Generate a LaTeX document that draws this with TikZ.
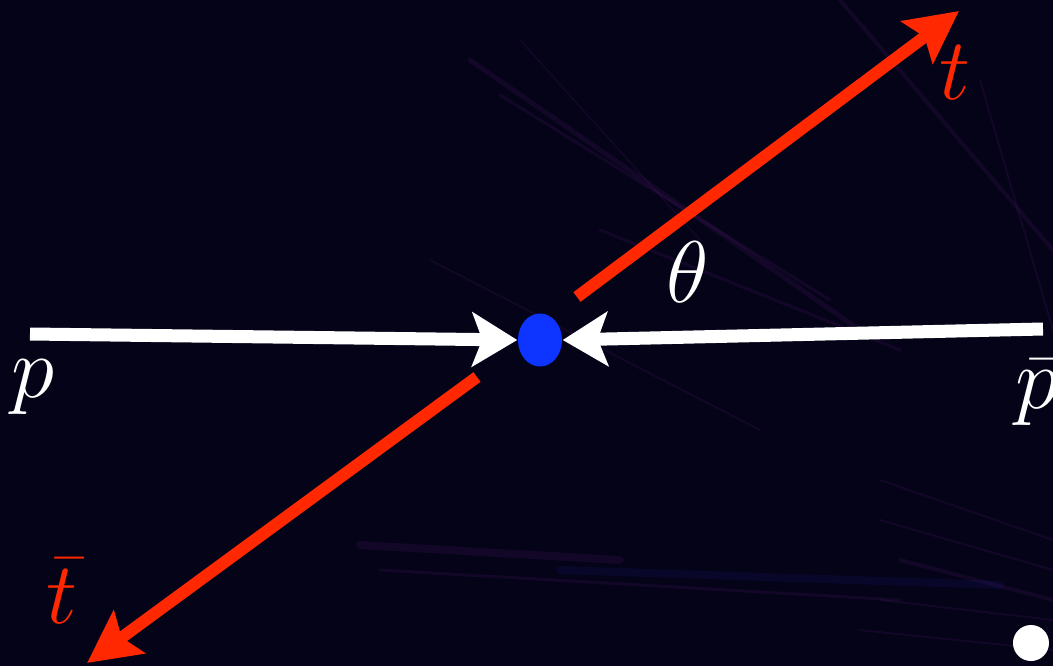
\documentclass[tikz,border=0pt]{standalone}
\usepackage{amsmath,amssymb}
\usetikzlibrary{arrows.meta,shapes.geometric}
\definecolor{NightBg}{RGB}{4,3,24}
\definecolor{TopRed}{RGB}{255,40,0}
\definecolor{VtxBlue}{RGB}{14,52,255}
\definecolor{Haze}{RGB}{95,30,120}
\definecolor{HazeBlue}{RGB}{30,30,140}
\tikzset{
	beam/.style={draw=white,line width=0.13cm,-{Stealth[length=0.45cm,width=0.54cm,inset=0.1cm]}},
	quark/.style={draw=TopRed,line width=0.12cm,-{Stealth[length=0.52cm,width=0.52cm,inset=0.09cm]}},
	lbl/.style={inner sep=0pt,font=\fontsize{24}{29}\selectfont},
	streak/.style={line cap=round,opacity=0.16},
}
\begin{document}
\begin{tikzpicture}[x=0.01cm,y=-0.01cm]
	\useasboundingbox (0,0) rectangle (1053,666);
	\fill[NightBg] (0,0) rectangle (1053,666);
	% faint event display behind the diagram
	\foreach \xa/\ya/\xb/\yb/\w in {470/60/860/330/0.05, 500/95/830/300/0.03, 430/260/760/430/0.02, 520/40/700/240/0.015,
		600/230/900/350/0.03, 840/0/1053/250/0.04, 980/80/1053/330/0.02, 360/545/620/560/0.08, 380/570/900/600/0.03,
		880/480/1053/540/0.02, 880/520/1053/570/0.02, 900/560/1053/600/0.04, 880/600/1053/620/0.02, 860/630/1053/650/0.02}
		\draw[streak,Haze,line width=\w cm] (\xa,\ya) -- (\xb,\yb);
	\draw[streak,HazeBlue,line width=0.08cm] (560,570) -- (1000,585);
	% vertex and beams
	\node[ellipse,fill=VtxBlue,minimum width=0.44cm,minimum height=0.53cm,inner sep=0pt] (vtx) at (540,340) {};
	\coordinate (pin) at (30,334);
	\coordinate (pbarin) at (1043,329);
	\draw[beam] (pin) -- (vtx.west);
	\draw[beam] (pbarin) -- (vtx.east);
	% top pair
	\coordinate (tstart) at (577,297);
	\coordinate (tend) at (959,11);
	\coordinate (tbstart) at (477,377);
	\coordinate (tbend) at (87,663);
	\draw[quark] (tstart) -- (tend);
	\draw[quark] (tbstart) -- (tbend);
	% labels
	\node[lbl,text=white] (plbl) at (33,387) {$p$};
	\node[lbl,text=white] (pbarlbl) at (1037,393) {$\bar{p}$};
	\node[lbl,text=TopRed] (tlbl) at (955,73) {$t$};
	\node[lbl,text=TopRed] (tbarlbl) at (62,591) {$\bar{t}$};
	\node[lbl,text=white] (thetalbl) at (688,272) {$\theta$};
	\fill[white] (1031,643) circle (18);
\end{tikzpicture}
\end{document}
